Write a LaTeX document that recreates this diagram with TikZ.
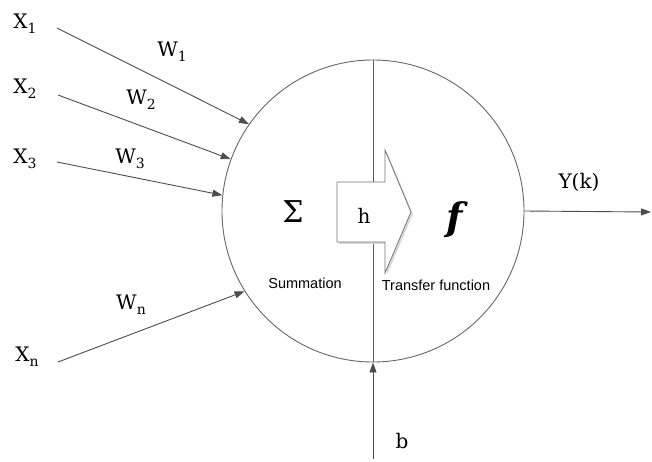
\documentclass[tikz,border=0pt]{standalone}
\usepackage{fontspec}
\setmainfont{DejaVu Serif}
\newfontfamily\labsans{Liberation Sans}
\usetikzlibrary{arrows.meta}
\newcommand\lowsub[1]{\raisebox{-0.45ex}{\fontsize{14}{14}\selectfont #1}}
\begin{document}
\begin{tikzpicture}[x=1pt,y=-1pt,
  line/.style={draw=black!65,line width=0.9pt},
  arr/.style={line,-{Triangle[length=10pt,width=7pt]},color=black!70},
  lab/.style={font=\fontsize{20}{20}\selectfont,inner sep=0pt},
  small/.style={font=\labsans\fontsize{14.5}{15}\selectfont,inner sep=0pt}]
\useasboundingbox (0,0) rectangle (652,461);
% neuron circle
\node[circle,draw=black!60,line width=0.9pt,minimum size=302pt,inner sep=0pt] (c) at (373,211) {};
\draw[line] (c.north) -- (c.south);
% h arrow (with a light shadow)
\fill[black!15]
  (339,184) -- (387,184) -- (387,152) -- (413,214) -- (387,275) -- (387,244) -- (339,244) -- cycle;
\draw[draw=black!55,line width=0.8pt,fill=white]
  (337,182) -- (385,182) -- (385,150) -- (411,212) -- (385,273) -- (385,242) -- (337,242) -- cycle;
\node[font=\fontsize{20}{20}\selectfont] (h) at (364,216) {h};
\node[font=\fontsize{30}{30}\selectfont] (sig) at (293,212) {Σ};
\node[font={\fontsize{38}{38}\selectfont\bfseries\itshape}] (f) at (455,220) {f};
\node[small] (sum) at (305,283) {Summation};
\node[small] (tf) at (436,285) {Transfer function};
% inputs
\node[lab] (x1) at (25,24) {X\lowsub{1}};
\node[lab] (x2) at (25,89) {X\lowsub{2}};
\node[lab] (x3) at (25,159) {X\lowsub{3}};
\node[lab] (xn) at (27,357) {X\lowsub{n}};
\node[lab] (w1) at (172,52) {W\lowsub{1}};
\node[lab] (w2) at (141,100) {W\lowsub{2}};
\node[lab] (w3) at (130,159) {W\lowsub{3}};
\node[lab] (wn) at (131,305) {W\lowsub{n}};
\coordinate (s1) at (57,28);
\coordinate (s2) at (58,95);
\coordinate (s3) at (57,162);
\coordinate (sn) at (58,362);
\draw[arr] (s1) -- (c.145);
\draw[arr] (s2) -- (c.160);
\draw[arr] (s3) -- (c.174);
\draw[arr] (sn) -- (c.212);
% bias
\coordinate (bs) at (373,459);
\draw[arr] (bs) -- (c.south);
\node[font=\fontsize{20}{20}\selectfont] (b) at (402,441) {b};
% output
\coordinate (out) at (651,212);
\draw[arr] (c.east) -- (out);
\node[lab] (y) at (579,182) {Y(k)};
\end{tikzpicture}
\end{document}
